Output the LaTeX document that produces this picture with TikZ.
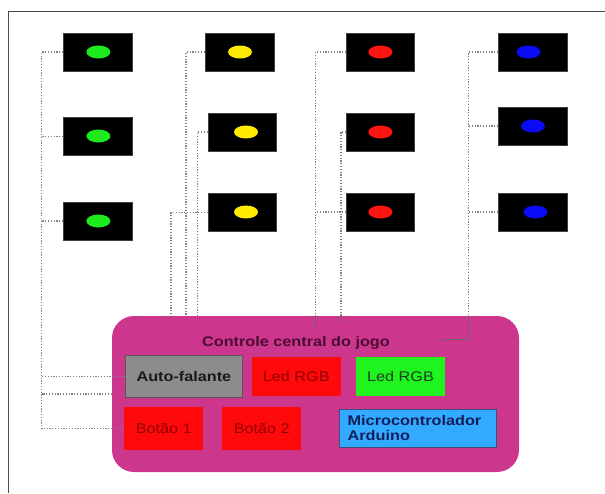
\documentclass[tikz,border=0pt]{standalone}
\usepackage{fontspec}
\setmainfont{Liberation Sans}[FakeStretch=1.16]
\usetikzlibrary{shapes.geometric}
\definecolor{pinkbg}{RGB}{204,54,140}
\definecolor{titlecol}{RGB}{75,12,50}
\definecolor{ledgreen}{RGB}{30,235,30}
\definecolor{ledyellow}{RGB}{255,235,0}
\definecolor{ledred}{RGB}{255,20,20}
\definecolor{ledblue}{RGB}{10,10,245}
\definecolor{wirecol}{RGB}{130,130,130}
\definecolor{greyfill}{RGB}{140,140,140}
\definecolor{redfill}{RGB}{255,10,10}
\definecolor{greenfill}{RGB}{30,245,30}
\definecolor{bluefill}{RGB}{50,170,255}
\definecolor{redtext}{RGB}{145,0,0}
\definecolor{greentext}{RGB}{30,60,30}
\definecolor{bluetext}{RGB}{20,30,90}
\begin{document}
\begin{tikzpicture}[x=1pt,y=-1pt,
  ledbox/.style={fill=black,draw=black!75,line width=0.6pt,minimum width=68.6pt,minimum height=38pt,inner sep=0pt},
  lamp/.style={ellipse,minimum width=24pt,minimum height=13pt,inner sep=0pt},
  wire/.style={draw=wirecol,dash pattern=on 1.2pt off 1.6pt,line width=1.2pt},
  inwire/.style={draw=black!60,line width=1pt},
  part/.style={inner sep=0pt,font=\fontsize{14}{15}\selectfont},
]
\useasboundingbox (0,0) rectangle (605,493);
% frame
\draw[black!70,line width=1pt] (8.5,493) -- (8.5,11) -- (605,11);

% LED boxes
\node[ledbox,minimum width=69pt] (c1r1) at (98,52) {};
\node[ledbox,minimum width=69pt] (c1r2) at (98,136.3) {};
\node[ledbox,minimum width=69pt] (c1r3) at (98,221) {};
\node[ledbox,minimum width=69pt] (c2r1) at (239.5,52) {};
\node[ledbox,minimum width=68pt] (c2r2) at (242,132) {};
\node[ledbox,minimum width=68pt] (c2r3) at (242,212.5) {};
\node[ledbox,minimum width=68pt] (c3r1) at (380.5,52) {};
\node[ledbox,minimum width=68pt] (c3r2) at (380.5,132) {};
\node[ledbox,minimum width=68pt] (c3r3) at (380.5,212) {};
\node[ledbox] (c4r1) at (532.8,52) {};
\node[ledbox] (c4r2) at (532.8,126) {};
\node[ledbox] (c4r3) at (532.8,212) {};

% lamps
\node[lamp,fill=ledgreen] (g1) at (98.4,52) {};
\node[lamp,fill=ledgreen] (g2) at (98.4,136) {};
\node[lamp,fill=ledgreen] (g3) at (98.4,221) {};
\node[lamp,fill=ledyellow] (y1) at (240,52) {};
\node[lamp,fill=ledyellow] (y2) at (246,132) {};
\node[lamp,fill=ledyellow] (y3) at (246,212) {};
\node[lamp,fill=ledred] (r1) at (380.4,52) {};
\node[lamp,fill=ledred] (r2) at (380.4,132) {};
\node[lamp,fill=ledred] (r3) at (380.4,212) {};
\node[lamp,fill=ledblue] (b1) at (528.5,52) {};
\node[lamp,fill=ledblue] (b2) at (533,126) {};
\node[lamp,fill=ledblue] (b3) at (535.5,212) {};

% central control
\node[fill=pinkbg,rounded corners=22pt,minimum width=407pt,minimum height=156pt,inner sep=0pt] (ctrl) at (315.5,394) {};
\node[part,font=\fontsize{14}{15}\selectfont\bfseries,text=titlecol] (title) at (296,343) {Controle central do jogo};
\node[part,fill=greyfill,draw=black!65,line width=0.8pt,minimum width=117.7pt,minimum height=41.6pt,font=\fontsize{14}{15}\selectfont\bfseries,text=black!90] (auto) at (183.9,376.5) {Auto-falante};
\node[part,fill=redfill,minimum width=89pt,minimum height=39pt,text=redtext] (ledr) at (296.2,376.5) {Led RGB};
\node[part,fill=greenfill,minimum width=89pt,minimum height=39pt,text=greentext] (ledg) at (400.5,376.5) {Led RGB};
\node[part,fill=redfill,minimum width=79pt,minimum height=43.3pt,text=redtext] (bot1) at (163.8,428.4) {Botão 1};
\node[part,fill=redfill,minimum width=79pt,minimum height=43.3pt,text=redtext] (bot2) at (261.8,428.4) {Botão 2};
\node[part,fill=bluefill,draw=bluetext!80,line width=0.7pt,minimum width=156.7pt,minimum height=38.3pt,text width=140pt,align=left,font=\fontsize{14}{15}\selectfont\bfseries,text=bluetext] (micro) at (417.7,428.2) {Microcontrolador\\Arduino};

% column 1 wiring
\coordinate (k1) at (41.5,428.4);
\draw[wire] (c1r1.west) -| (k1) -- (bot1.west);
\draw[wire] (c1r2.west) -- (c1r2.west -| k1);
\draw[wire] (c1r3.west) -- (c1r3.west -| k1);
\draw[wire] (auto.west) -- (auto.west -| k1);
\draw[wire] (ctrl.west) -- (ctrl.west -| k1);

% column 2 wiring
\coordinate (k2a) at (186,316);
\coordinate (k2b) at (197.5,316);
\coordinate (k2c) at (171,316);
\draw[wire] (c2r1.west) -| (k2a);
\draw[wire] (c2r2.west) -| (k2b);
\draw[wire] (c2r3.west) -| (k2c);

% column 3 wiring
\coordinate (k3a) at (315.6,328);
\coordinate (k3b) at (341,322);
\draw[wire] (c3r1.west) -| (ctrl.north -| k3a);
\draw[inwire] (ctrl.north -| k3a) -- (k3a);
\draw[wire] (c3r3.west) -- (c3r3.west -| k3a);
\draw[wire] (c3r2.west) -| (ctrl.north -| k3b);
\draw[inwire] (ctrl.north -| k3b) -- (k3b);

% column 4 wiring
\coordinate (k4) at (468.7,339.5);
\coordinate (e4) at (440,339.5);
\draw[wire] (c4r1.west) -| (ctrl.north -| k4);
\draw[inwire] (ctrl.north -| k4) -- (k4) -- (e4);
\draw[wire] (c4r2.west) -- (c4r2.west -| k4);
\draw[wire] (c4r3.west) -- (c4r3.west -| k4);
\end{tikzpicture}
\end{document}
